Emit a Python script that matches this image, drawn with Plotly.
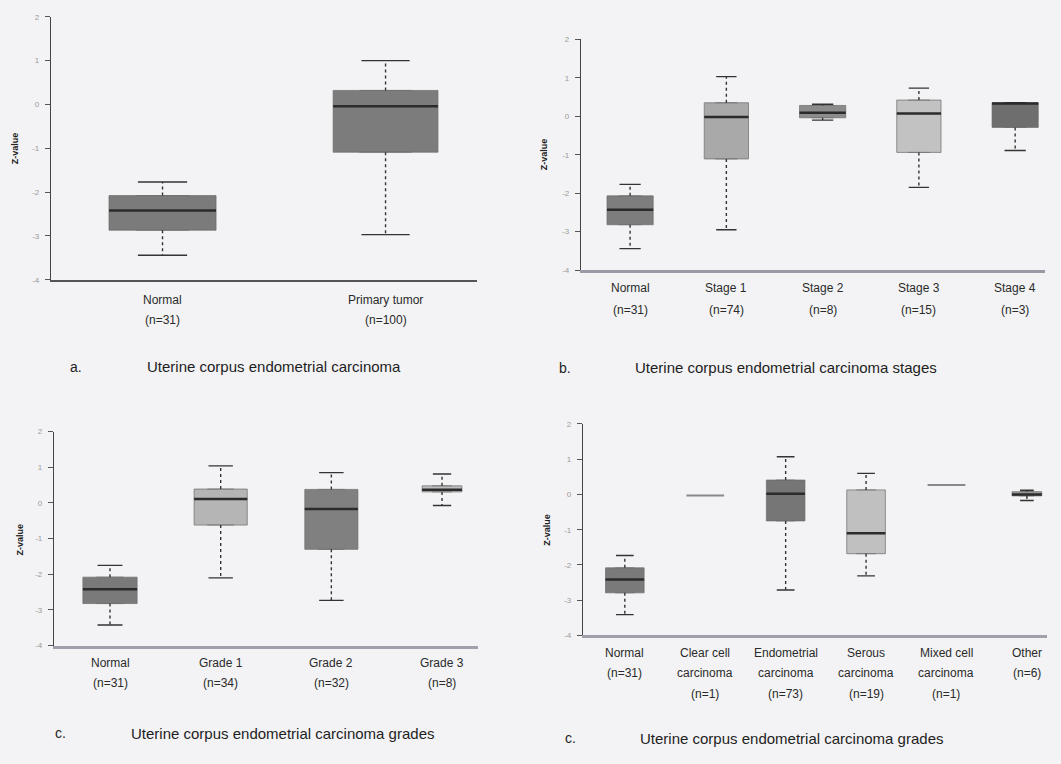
import plotly.graph_objects as go

W, H = 1061, 764

# ---------------- data ----------------
# Panel a
a_labels = [["Normal", "(n=31)"], ["Primary tumor", "(n=100)"]]
a_upper = [-1.77, 1.00]
a_q3 = [-2.08, 0.32]
a_median = [-2.42, -0.04]
a_q1 = [-2.87, -1.09]
a_lower = [-3.44, -2.97]

# Panel b
b_labels = [["Normal", "(n=31)"], ["Stage 1", "(n=74)"], ["Stage 2", "(n=8)"],
            ["Stage 3", "(n=15)"], ["Stage 4", "(n=3)"]]
b_upper = [-1.77, 1.03, 0.31, 0.73, 0.35]
b_q3 = [-2.07, 0.35, 0.28, 0.42, 0.35]
b_median = [-2.43, -0.02, 0.09, 0.07, 0.33]
b_q1 = [-2.82, -1.11, -0.04, -0.94, -0.29]
b_lower = [-3.44, -2.95, -0.10, -1.85, -0.89]

# Panel c
c_labels = [["Normal", "(n=31)"], ["Grade 1", "(n=34)"], ["Grade 2", "(n=32)"], ["Grade 3", "(n=8)"]]
c_upper = [-1.75, 1.04, 0.85, 0.81]
c_q3 = [-2.08, 0.39, 0.38, 0.48]
c_median = [-2.42, 0.11, -0.17, 0.37]
c_q1 = [-2.82, -0.62, -1.30, 0.31]
c_lower = [-3.42, -2.10, -2.73, -0.07]

# Panel d
d_labels = [["Normal", "(n=31)"], ["Clear cell", "carcinoma", "(n=1)"],
            ["Endometrial", "carcinoma", "(n=73)"], ["Serous", "carcinoma", "(n=19)"],
            ["Mixed cell", "carcinoma", "(n=1)"], ["Other", "(n=6)"]]
d_upper = [-1.73, -0.03, 1.07, 0.60, 0.27, 0.12]
d_q3 = [-2.08, -0.03, 0.41, 0.13, 0.27, 0.08]
d_median = [-2.41, -0.03, 0.02, -1.10, 0.27, 0.00]
d_q1 = [-2.79, -0.03, -0.75, -1.68, 0.27, -0.04]
d_lower = [-3.41, -0.03, -2.71, -2.31, 0.27, -0.17]

y_ticks = [2, 1, 0, -1, -2, -3, -4]

# ---------------- styles ----------------
BG = "#f3f3f5"
FONT = "Liberation Sans, Arial, sans-serif"

panels = [
    dict(labels=a_labels, up=a_upper, q3=a_q3, med=a_median, q1=a_q1, lo=a_lower,
         fills=["#7b7b7b", "#7c7c7c"], widths=[0.48, 0.47],
         xpx=(51, 477), ypx=(13, 279), xr=[-0.5, 1.41], xline=("#555555", 1.5),
         label_y=[300, 320], ytitle=(15, 146),
         letter=("a.", 68, 367), caption=("Uterine corpus endometrial carcinoma", 145, 367)),
    dict(labels=b_labels, up=b_upper, q3=b_q3, med=b_median, q1=b_q1, lo=b_lower,
         fills=["#7d7d7d", "#a9a9a9", "#8c8c8c", "#c2c2c2", "#6e6e6e"],
         widths=[0.48, 0.46, 0.48, 0.46, 0.48],
         xpx=(581, 1045), ypx=(35.7, 269.3), xr=[-0.51, 4.31], xline=("#9a9aa6", 2.5),
         label_y=[287, 310], ytitle=(544, 152),
         letter=("b.", 557, 368), caption=("Uterine corpus endometrial carcinoma stages", 633, 368)),
    dict(labels=c_labels, up=c_upper, q3=c_q3, med=c_median, q1=c_q1, lo=c_lower,
         fills=["#7a7a7a", "#b5b5b5", "#808080", "#bdbdbd"], widths=[0.49, 0.48, 0.48, 0.36],
         xpx=(54, 478), ypx=(432.7, 649.3), xr=[-0.506, 3.325], xline=("#a0a0ac", 2.5),
         label_y=[667, 687], ytitle=(20, 542),
         letter=("c.", 53, 738), caption=("Uterine corpus endometrial carcinoma grades", 129, 738)),
    dict(labels=d_labels, up=d_upper, q3=d_q3, med=d_median, q1=d_q1, lo=d_lower,
         fills=["#7a7a7a", "#9a9a9a", "#767676", "#c0c0c0", "#9a9a9a", "#a0a0a0"],
         widths=[0.48, 0.47, 0.48, 0.48, 0.47, 0.37],
         xpx=(583, 1047), ypx=(425, 639), xr=[-0.52, 5.25], xline=("#a0a0ac", 2.5),
         label_y=[657, 677, 698], ytitle=(547, 532),
         letter=("c.", 563, 743), caption=("Uterine corpus endometrial carcinoma grades", 638, 743)),
]

fig = go.Figure()
annotations = []
layout_axes = {}


def px_x(v):
    return v / W


def px_y(v):
    return 1 - v / H


for k, p in enumerate(panels, start=1):
    xa = "x" if k == 1 else f"x{k}"
    ya = "y" if k == 1 else f"y{k}"
    n = len(p["labels"])
    for i in range(n):
        w = p["widths"][i]
        flat = p["q1"][i] == p["q3"][i]
        fig.add_trace(go.Box(
            x=[i], q1=[p["q1"][i]], median=[p["med"][i]], q3=[p["q3"][i]],
            lowerfence=[p["q1"][i]], upperfence=[p["q3"][i]],
            width=w, fillcolor=p["fills"][i],
            line=dict(color="#8a8a8a" if flat else "#6a6a6a", width=2 if flat else 0.7),
            xaxis=xa, yaxis=ya, showlegend=False, hoverinfo="skip", boxpoints=False))
        if not flat:
            # dotted whiskers
            fig.add_trace(go.Scatter(
                x=[i, i, None, i, i], y=[p["q3"][i], p["up"][i], None, p["q1"][i], p["lo"][i]],
                mode="lines", line=dict(color="#333333", width=1.4, dash="dot"),
                xaxis=xa, yaxis=ya, showlegend=False, hoverinfo="skip"))
            # caps
            cw = 0.23 * w
            fig.add_trace(go.Scatter(
                x=[i - cw, i + cw, None, i - cw, i + cw],
                y=[p["up"][i], p["up"][i], None, p["lo"][i], p["lo"][i]],
                mode="lines", line=dict(color="#333333", width=1.4),
                xaxis=xa, yaxis=ya, showlegend=False, hoverinfo="skip"))
            # median
            fig.add_trace(go.Scatter(
                x=[i - w / 2, i + w / 2], y=[p["med"][i], p["med"][i]],
                mode="lines", line=dict(color="#2b2b2b", width=2.6),
                xaxis=xa, yaxis=ya, showlegend=False, hoverinfo="skip"))
        # category labels
        for j, line in enumerate(p["labels"][i]):
            annotations.append(dict(
                text=line, x=i, xref=xa, y=px_y(p["label_y"][j]), yref="paper",
                xanchor="center", yanchor="middle", showarrow=False,
                font=dict(family=FONT, size=12, color="#2a2a2a")))

    x0, x1 = p["xpx"]
    yt, yb = p["ypx"]
    xkey = "xaxis" if k == 1 else f"xaxis{k}"
    ykey = "yaxis" if k == 1 else f"yaxis{k}"
    layout_axes[xkey] = dict(
        domain=[px_x(x0), px_x(x1)], range=p["xr"], anchor=ya,
        showgrid=False, zeroline=False, showticklabels=False, ticks="",
        showline=True, linecolor=p["xline"][0], linewidth=p["xline"][1], fixedrange=True)
    layout_axes[ykey] = dict(
        domain=[px_y(yb), px_y(yt)], range=[-4, 2], anchor=xa,
        tickvals=y_ticks, ticktext=[str(t) for t in y_ticks],
        showgrid=False, zeroline=False, ticks="outside", ticklen=5, tickwidth=1,
        tickcolor="#555555", showline=True, linecolor="#444444", linewidth=1.3,
        tickfont=dict(family=FONT, size=8, color="#9a9a9a"), ticklabelstandoff=4,
        fixedrange=True)

    annotations.append(dict(
        text="<b>Z-value</b>", x=px_x(p["ytitle"][0]), y=px_y(p["ytitle"][1]),
        xref="paper", yref="paper", textangle=-90, showarrow=False,
        xanchor="center", yanchor="middle",
        font=dict(family=FONT, size=9, color="#222222")))
    letter, lx, ly = p["letter"]
    annotations.append(dict(
        text=letter, x=px_x(lx), y=px_y(ly), xref="paper", yref="paper",
        xanchor="left", yanchor="middle", showarrow=False,
        font=dict(family=FONT, size=14, color="#1e1e1e")))
    cap, cx, cy = p["caption"]
    annotations.append(dict(
        text=cap, x=px_x(cx), y=px_y(cy), xref="paper", yref="paper",
        xanchor="left", yanchor="middle", showarrow=False,
        font=dict(family=FONT, size=15, color="#1e1e1e")))

fig.update_layout(
    width=W, height=H, margin=dict(l=0, r=0, t=0, b=0),
    paper_bgcolor=BG, plot_bgcolor=BG, showlegend=False,
    boxmode="overlay", annotations=annotations, **layout_axes)

fig.write_html(
    "out.html",
    config={"displayModeBar": False},
    post_script="document.body.style.margin='0';document.body.style.padding='0';"
                "document.body.style.background='" + BG + "';",
)
